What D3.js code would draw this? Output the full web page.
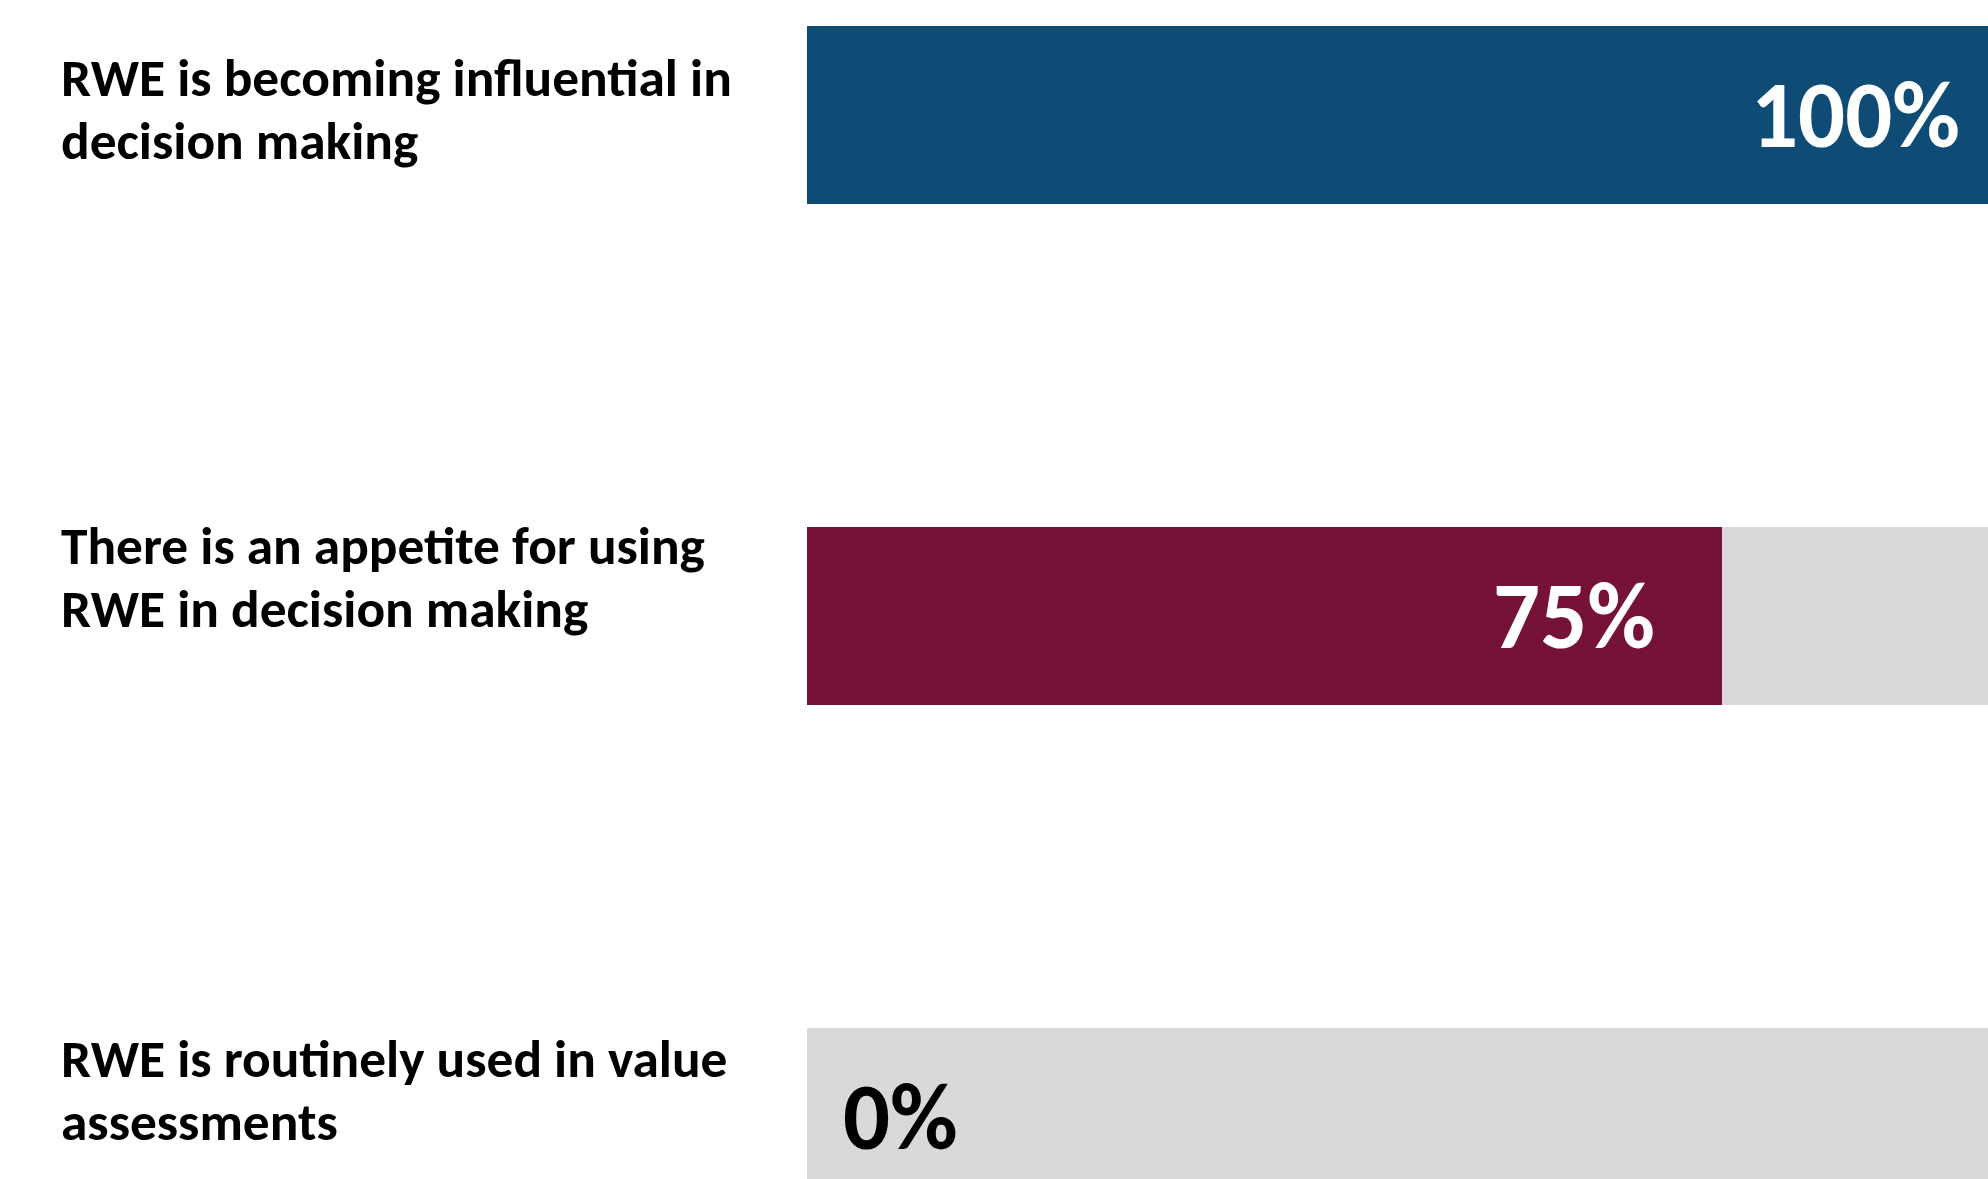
<!DOCTYPE html>
<html>
<head>
<meta charset="utf-8">
<script src="https://cdn.jsdelivr.net/npm/d3@7"></script>
<style>
  html, body { margin: 0; padding: 0; background: #ffffff; overflow: hidden; }
  svg { display: block; }
</style>
</head>
<body>
<svg id="chart" width="1988" height="1179"></svg>
<script>
// ---- data ----
const categories = [
  "RWE is becoming influential in\ndecision making",
  "There is an appetite for using\nRWE in decision making",
  "RWE is routinely used in value\nassessments"
];
const values = [100, 75, 0];
const valueLabels = ["100%", "75%", "0%"];
const barColors = ["#0f4c75", "#761238", "#d9d9d9"];
const trackColor = "#d9d9d9";

// ---- layout ----
const labelShift = [-19, -52, -40];   // first-line baseline offset from bar centre
const svg = d3.select("#chart");

const x = d3.scaleLinear().domain([0, 100]).range([807, 2027]);
const y = d3.scaleBand().domain(categories).range([26, 1206])
  .paddingInner(1 - 178 / 501).paddingOuter(0);

const font = "Carlito, Calibri, Lato, 'Open Sans', sans-serif";

// tracks
svg.selectAll("rect.track").data(categories).join("rect")
  .attr("class", "track")
  .attr("x", x(0)).attr("y", d => y(d))
  .attr("width", x(100) - x(0)).attr("height", y.bandwidth())
  .attr("fill", trackColor);

// bars
svg.selectAll("rect.bar").data(categories).join("rect")
  .attr("class", "bar")
  .attr("x", x(0)).attr("y", d => y(d))
  .attr("width", (d, i) => x(values[i]) - x(0)).attr("height", y.bandwidth())
  .attr("fill", (d, i) => barColors[i]);

// category labels
const catG = svg.append("g");
const catText = catG.selectAll("text").data(categories).join("text")
  .attr("x", 61)
  .attr("y", (d, i) => y(d) + y.bandwidth() / 2 + labelShift[i])
  .attr("font-family", font).attr("font-weight", "bold").attr("font-size", 53.5)
  .attr("fill", "#000");
catText.each(function(d) {
  const t = d3.select(this);
  d.split("\n").forEach((line, k) => {
    t.append("tspan").attr("x", 61).attr("dy", k === 0 ? 0 : 63).text(line);
  });
});
const w1 = catText.node().querySelector("tspan").getComputedTextLength();
const sx = Math.min(1, 671 / w1);
catG.attr("transform", `translate(${61 * (1 - sx)},0) scale(${sx},1)`);

// value labels
const probe = svg.append("text").attr("font-family", font).attr("font-weight", "bold")
  .attr("font-size", 96).text(valueLabels[0]);
const sv = Math.min(1, 209 / probe.node().getComputedTextLength());
probe.remove();

svg.append("g").selectAll("text").data(categories).join("text")
  .attr("transform", (c, i) => {
    const ax = values[i] > 0 ? x(values[i]) - 67 : x(0) + 36;
    return `translate(${ax},${y(c) + y.bandwidth() / 2 + 32}) scale(${sv},1)`;
  })
  .attr("font-family", font).attr("font-weight", "bold").attr("font-size", 96)
  .attr("fill", (c, i) => values[i] > 0 ? "#ffffff" : "#000000")
  .attr("text-anchor", (c, i) => values[i] > 0 ? "end" : "start")
  .text((c, i) => valueLabels[i]);
</script>
</body>
</html>
